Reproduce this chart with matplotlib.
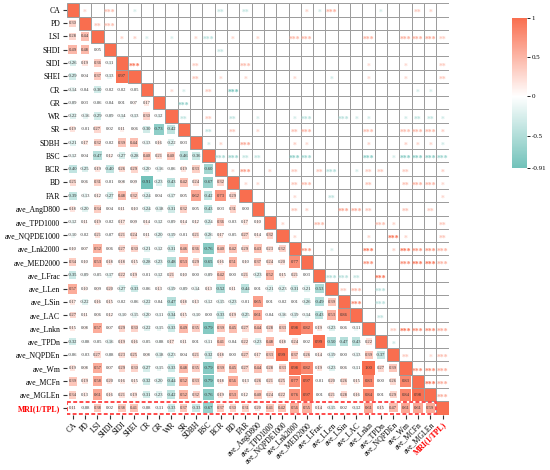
import numpy as np
import matplotlib
matplotlib.use("Agg")
import matplotlib.pyplot as plt
from matplotlib.colors import LinearSegmentedColormap, Normalize
from matplotlib.patches import Rectangle
import matplotlib.cm as cm

plt.rcParams['font.family'] = ['Liberation Serif', 'DejaVu Serif']
plt.rcParams['axes.unicode_minus'] = False

# variable names (rows / columns)
names = ["CA", "PD", "LSI", "SHDI", "SIDI", "SHEI", "CR", "GR", "WR", "SR", "SDBH",
         "BSC", "BCR", "BD", "FAR", "ave_AngD800", "ave_TPD1000", "ave_NQPDE1000",
         "ave_Lnk2000", "ave_MED2000", "ave_LFrac", "ave_LLen", "ave_LSin", "ave_LAC",
         "ave_Lnkn", "ave_TPDn", "ave_NQPDEn", "ave_Wm", "ave_MCFn", "ave_MGLEn",
         "MRI(1/TPL)"]

# lower triangle of the correlation matrix, row by row
lower = [
    [],
    [0.30],
    [0.28, 0.44],
    [0.49, 0.48, 0.05],
    [-0.26, 0.19, 0.36, -0.11],
    [-0.29, 0.04, 0.37, -0.13, 0.97],
    [-0.14, -0.04, -0.30, -0.02, -0.02, -0.05],
    [-0.09, 0.03, -0.06, -0.04, 0.01, 0.07, 0.17],
    [-0.22, -0.16, -0.29, -0.09, -0.14, -0.13, 0.30, -0.12],
    [0.19, -0.01, 0.27, 0.02, 0.11, 0.06, -0.30, -0.73, -0.42],
    [-0.21, 0.17, 0.32, -0.02, 0.39, 0.44, -0.13, 0.16, -0.22, 0.03],
    [-0.12, 0.04, -0.47, 0.12, -0.27, -0.28, 0.40, 0.21, 0.40, -0.46, -0.36],
    [-0.40, -0.25, 0.19, -0.40, 0.26, 0.29, -0.20, -0.16, -0.06, 0.19, 0.33, -0.60],
    [0.25, 0.06, 0.31, -0.01, 0.08, 0.09, -0.91, -0.23, -0.43, 0.42, 0.24, -0.67, 0.32],
    [-0.39, -0.13, 0.12, -0.27, 0.48, 0.32, -0.24, 0.04, -0.17, 0.05, 0.62, -0.42, 0.73, 0.29],
    [0.18, -0.20, 0.34, 0.04, 0.11, 0.10, -0.24, -0.18, -0.31, 0.32, 0.05, -0.43, 0.03, 0.31, 0.00],
    [-0.12, 0.11, 0.19, -0.02, 0.17, 0.09, 0.14, -0.12, -0.09, 0.14, 0.12, -0.24, 0.36, -0.03, 0.17, 0.10],
    [-0.10, -0.02, 0.21, -0.07, 0.21, 0.24, 0.11, -0.20, -0.19, -0.01, 0.21, -0.26, 0.17, -0.05, 0.27, 0.14, 0.32],
    [0.10, 0.07, 0.52, 0.06, 0.27, 0.30, -0.21, -0.12, -0.31, 0.46, 0.36, -0.76, 0.40, 0.42, 0.29, 0.43, 0.23, 0.32],
    [0.34, 0.10, 0.53, 0.18, 0.18, 0.15, -0.28, -0.23, -0.48, 0.53, 0.29, -0.65, 0.16, 0.51, 0.10, 0.37, 0.24, 0.20, 0.77],
    [-0.35, -0.09, -0.05, -0.17, 0.22, 0.19, -0.01, -0.12, 0.21, 0.10, 0.00, -0.09, 0.42, 0.00, 0.21, -0.23, 0.52, 0.15, 0.21, 0.03],
    [0.57, 0.10, 0.09, 0.20, -0.27, -0.33, -0.06, 0.13, -0.19, -0.09, -0.14, 0.13, -0.52, 0.11, -0.44, 0.01, -0.21, -0.23, -0.31, -0.21, -0.53],
    [0.17, -0.22, 0.16, 0.15, -0.02, -0.06, -0.22, -0.04, -0.47, 0.18, 0.13, -0.12, -0.15, -0.23, -0.01, 0.65, 0.01, -0.02, 0.01, -0.26, -0.49, 0.39],
    [0.27, 0.11, 0.06, 0.12, -0.10, -0.15, -0.20, -0.11, -0.34, 0.15, -0.10, 0.00, -0.33, 0.19, -0.25, 0.61, -0.04, -0.16, -0.19, -0.14, -0.43, 0.53, 0.86],
    [0.15, 0.08, 0.57, 0.07, 0.29, 0.30, -0.22, -0.15, -0.33, 0.49, 0.35, -0.79, 0.39, 0.45, 0.27, 0.44, 0.28, 0.33, 0.98, 0.82, 0.19, -0.23, 0.06, -0.11],
    [-0.32, -0.08, -0.05, -0.16, 0.19, 0.16, -0.05, -0.08, 0.17, 0.11, 0.01, -0.11, 0.41, -0.04, 0.22, -0.23, 0.48, 0.18, 0.24, 0.02, 0.99, -0.50, -0.47, -0.43, 0.22],
    [-0.06, -0.03, 0.27, -0.08, 0.23, 0.25, 0.08, -0.18, -0.23, 0.04, 0.21, -0.32, 0.18, 0.00, 0.27, 0.17, 0.33, 0.99, 0.37, 0.26, 0.14, -0.19, 0.00, -0.13, 0.39, -0.37],
    [0.19, 0.08, 0.57, 0.07, 0.29, 0.30, -0.27, -0.15, -0.33, 0.48, 0.35, -0.79, 0.39, 0.45, 0.27, 0.44, 0.28, 0.33, 0.98, 0.82, 0.19, -0.23, 0.06, -0.11, 1.00, 0.27, 0.39],
    [0.39, 0.19, 0.58, 0.20, 0.16, 0.15, -0.32, -0.20, -0.44, 0.52, 0.33, -0.79, 0.18, 0.56, 0.13, 0.26, 0.21, 0.25, 0.77, 0.97, -0.01, 0.20, 0.26, 0.15, 0.83, 0.00, 0.26, 0.83],
    [0.34, 0.13, 0.61, 0.16, 0.21, 0.19, -0.31, -0.23, -0.42, 0.52, 0.32, -0.76, 0.19, 0.53, 0.12, 0.40, 0.24, 0.22, 0.76, 0.97, 0.01, 0.21, 0.28, 0.16, 0.84, 0.01, 0.29, 0.84, 0.98],
    [0.11, -0.08, 0.38, 0.02, 0.38, 0.41, -0.08, -0.11, -0.33, 0.37, -0.33, -0.67, 0.37, 0.30, 0.31, 0.20, 0.41, 0.42, 0.56, 0.55, 0.14, -0.15, 0.02, -0.12, 0.61, 0.15, 0.47, 0.61, 0.61, 0.59],
]

# critical |r| for p<0.05, 0.01, 0.001 (n = 47)
star_levels = [0.2876, 0.3722, 0.4646]

n = len(names)
R = np.eye(n)
for i, row in enumerate(lower):
    for j, v in enumerate(row):
        R[i, j] = v
        R[j, i] = v

cmap = LinearSegmentedColormap.from_list(
    "tealorange", [(0, "#72C2BA"), (0.91 / 1.91, "#FFFFFF"), (1, "#F96E4F")])
norm = Normalize(vmin=-0.91, vmax=1)

fig = plt.figure(figsize=(5.5, 4.7), dpi=100)
ax = fig.add_axes([0.121, 0.118, 0.695, 0.875])

grid_col = "#9c9c9c"
for i in range(n):
    for j in range(n):
        v = R[i, j]
        c = cmap(norm(v))
        if i > j:
            s = np.sqrt(abs(v))
            ax.add_patch(Rectangle((j + 0.5 - s / 2, i + 0.5 - s / 2), s, s,
                                   facecolor=c, edgecolor="none", zorder=1))
            ax.text(j + 0.5, i + 0.5, f"{v:.2f}", ha="center", va="center",
                    fontsize=3.3, color="#333333", zorder=3)
        elif i == j:
            ax.add_patch(Rectangle((j, i), 1, 1, facecolor=c,
                                   edgecolor=grid_col, lw=0.7, zorder=2))
        else:
            ax.add_patch(Rectangle((j, i), 1, 1, facecolor="white",
                                   edgecolor=grid_col, lw=0.7, zorder=2))
            k = sum(abs(v) >= t for t in star_levels)
            if k:
                ax.text(j + 0.5, i + 0.75, "*" * k, ha="center", va="center",
                        fontsize=5.5, fontweight="bold", color=c, zorder=3)

# red dashed box around the MRI row
ax.add_patch(Rectangle((0.02, n - 1 + 0.02), n - 1 - 0.04, 0.96, facecolor="none",
                       edgecolor="#FF4B4B", lw=1.4, ls=(0, (2, 1.2)), zorder=4))

ax.set_xlim(0, n)
ax.set_ylim(n, 0)
ax.set_xticks(np.arange(n) + 0.5)
ax.set_yticks(np.arange(n) + 0.5)
ax.set_xticklabels(names, rotation=45, ha="right", rotation_mode="anchor", fontsize=5.6)
ax.set_yticklabels(names, fontsize=5.6)
ax.tick_params(length=3, width=0.8, color="#333333", pad=1.5)
for spine in ax.spines.values():
    spine.set_visible(False)

for lab in (ax.get_xticklabels()[-1], ax.get_yticklabels()[-1]):
    lab.set_color("red")
    lab.set_fontweight("bold")

cax = fig.add_axes([0.931, 0.643, 0.027, 0.319])
sm = cm.ScalarMappable(norm=norm, cmap=cmap)
cb = fig.colorbar(sm, cax=cax, ticks=[1, 0.5, 0, -0.5, -0.91])
cb.ax.set_yticklabels(["1", "0.5", "0", "-0.5", "-0.91"])
cb.outline.set_visible(False)
cb.ax.tick_params(labelsize=5, length=2.5, width=0.6, pad=1)

plt.savefig("out.png", dpi=100)
